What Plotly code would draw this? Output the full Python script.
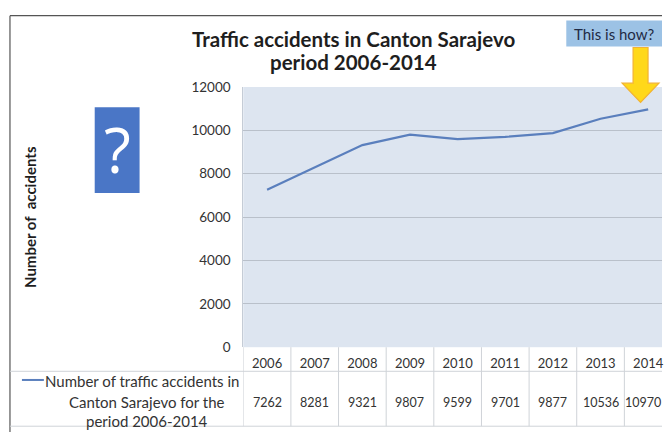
import plotly.graph_objects as go

# Annual traffic accidents, Canton Sarajevo
years = ["2006", "2007", "2008", "2009", "2010", "2011", "2012", "2013", "2014"]
accidents = [7262, 8281, 9321, 9807, 9599, 9701, 9877, 10536, 10970]

W, H = 664, 440
FONT = "Lato"
TXT = "#333333"
LINE_BLUE = "#5a7fbd"
GRID = "#b9c0ca"

# plot area in pixels
PL, PT, PB = 244, 82, 352


def px(x):
    return x / W


def py(y):
    return 1 - y / H


fig = go.Figure()
fig.add_trace(go.Scatter(
    x=years, y=accidents, mode="lines",
    line=dict(color=LINE_BLUE, width=2.2),
    showlegend=False, hoverinfo="x+y",
))

shapes = []
annotations = []

# outer frame (top and left edges)
shapes.append(dict(type="line", xref="paper", yref="paper", x0=px(10), x1=1, y0=py(8), y1=py(8),
                   line=dict(color="#555555", width=1.2)))
shapes.append(dict(type="line", xref="paper", yref="paper", x0=px(10), x1=px(10), y0=py(8), y1=0,
                   line=dict(color="#555555", width=1.2)))

# data table grid below the plot
TBL = "#cfd3d8"
shapes.append(dict(type="line", xref="paper", yref="paper", x0=px(10), x1=1, y0=py(377), y1=py(377),
                   line=dict(color=TBL, width=1)))
shapes.append(dict(type="line", xref="paper", yref="paper", x0=px(10), x1=1, y0=py(434), y1=py(434),
                   line=dict(color=TBL, width=1)))
for k in range(len(years) + 1):
    shapes.append(dict(type="line", xref="x", yref="paper", x0=k - 0.5, x1=k - 0.5,
                       y0=py(434), y1=py(PB), line=dict(color=TBL, width=1)))

# table values row (last column nudged so it stays inside the page)
for k, v in enumerate(accidents):
    annotations.append(dict(x=k, xref="x", y=py(409), yref="paper", text=str(v), showarrow=False,
                            xshift=-5 if k == len(accidents) - 1 else 0,
                            font=dict(family=FONT, size=12.5, color=TXT), xanchor="center", yanchor="middle"))

# legend key in the table's first column
shapes.append(dict(type="line", xref="paper", yref="paper", x0=px(22), x1=px(44), y0=py(386), y1=py(386),
                   line=dict(color=LINE_BLUE, width=2)))
annotations.append(dict(x=px(242), xref="paper", y=py(387), yref="paper",
                        text="Number of traffic accidents in", showarrow=False,
                        font=dict(family=FONT, size=15, color=TXT), xanchor="right", yanchor="middle"))
for txt, yy in zip(["Canton Sarajevo for the", "period 2006-2014"], [409, 429]):
    annotations.append(dict(x=px(147), xref="paper", y=py(yy), yref="paper", text=txt, showarrow=False,
                            font=dict(family=FONT, size=15, color=TXT), xanchor="center", yanchor="middle"))

# title
for txt, yy in zip(["Traffic accidents in Canton Sarajevo", "period 2006-2014"], [32, 56]):
    annotations.append(dict(x=px(355), xref="paper", y=py(yy), yref="paper",
                            text=f"<b>{txt}</b>", showarrow=False,
                            font=dict(family=FONT, size=20.5, color="#1e1e1e"), xanchor="center", yanchor="middle"))

# y axis title
annotations.append(dict(x=px(30), xref="paper", y=py(217), yref="paper",
                        text="<b>Number of  accidents</b>", showarrow=False, textangle=-90,
                        font=dict(family=FONT, size=15, color="#1e1e1e"), xanchor="center", yanchor="middle"))

# blue "?" box
shapes.append(dict(type="rect", xref="paper", yref="paper", x0=px(95), x1=px(140), y0=py(192), y1=py(103),
                   fillcolor="#4a76c6", line=dict(width=0)))
annotations.append(dict(x=px(117.5), xref="paper", y=py(146), yref="paper", text="?", showarrow=False,
                        font=dict(family="Open Sans", size=62, color="white"), xanchor="center", yanchor="middle"))

# "This is how?" callout with yellow arrow
shapes.append(dict(type="rect", xref="paper", yref="paper", x0=px(568), x1=px(664), y0=py(40), y1=py(13),
                   fillcolor="#9cc2e5", line=dict(width=0)))
annotations.append(dict(x=px(616), xref="paper", y=py(27), yref="paper", text="This is how?", showarrow=False,
                        font=dict(family=FONT, size=15, color="#1f2a44"), xanchor="center", yanchor="middle"))


def arrow_path():
    pts = [(635, 41), (650, 41), (650, 78), (661, 78), (642.5, 98), (624, 78), (635, 78)]
    parts = []
    for i, (x, y) in enumerate(pts):
        parts.append(("M" if i == 0 else "L") + f" {px(x):.5f},{py(y):.5f}")
    return " ".join(parts) + " Z"


shapes.append(dict(type="path", xref="paper", yref="paper", path=arrow_path(),
                   fillcolor="#ffd81a", line=dict(color="#f2b233", width=1.2)))

fig.update_layout(
    width=W, height=H,
    margin=dict(l=0, r=0, t=0, b=0),
    paper_bgcolor="white",
    plot_bgcolor="#dde5f0",
    font=dict(family=FONT, color=TXT),
    shapes=shapes,
    annotations=annotations,
    xaxis=dict(
        type="category", domain=[px(PL), 1], range=[-0.5, 8.29],
        showgrid=False, zeroline=False, showline=False,
        ticks="outside", ticklen=4, tickcolor="rgba(0,0,0,0)",
        tickfont=dict(family=FONT, size=13, color=TXT),
        fixedrange=True,
    ),
    yaxis=dict(
        domain=[py(PB), py(PT)], range=[0, 12000], dtick=2000, tickformat="d",
        showgrid=True, gridcolor=GRID, gridwidth=1, zeroline=False,
        showline=True, linecolor="#c5ccd6",
        ticks="outside", ticklen=9, tickcolor="rgba(0,0,0,0)",
        tickfont=dict(family=FONT, size=13.5, color=TXT),
        fixedrange=True,
    ),
)

fig.write_html("out.html")
